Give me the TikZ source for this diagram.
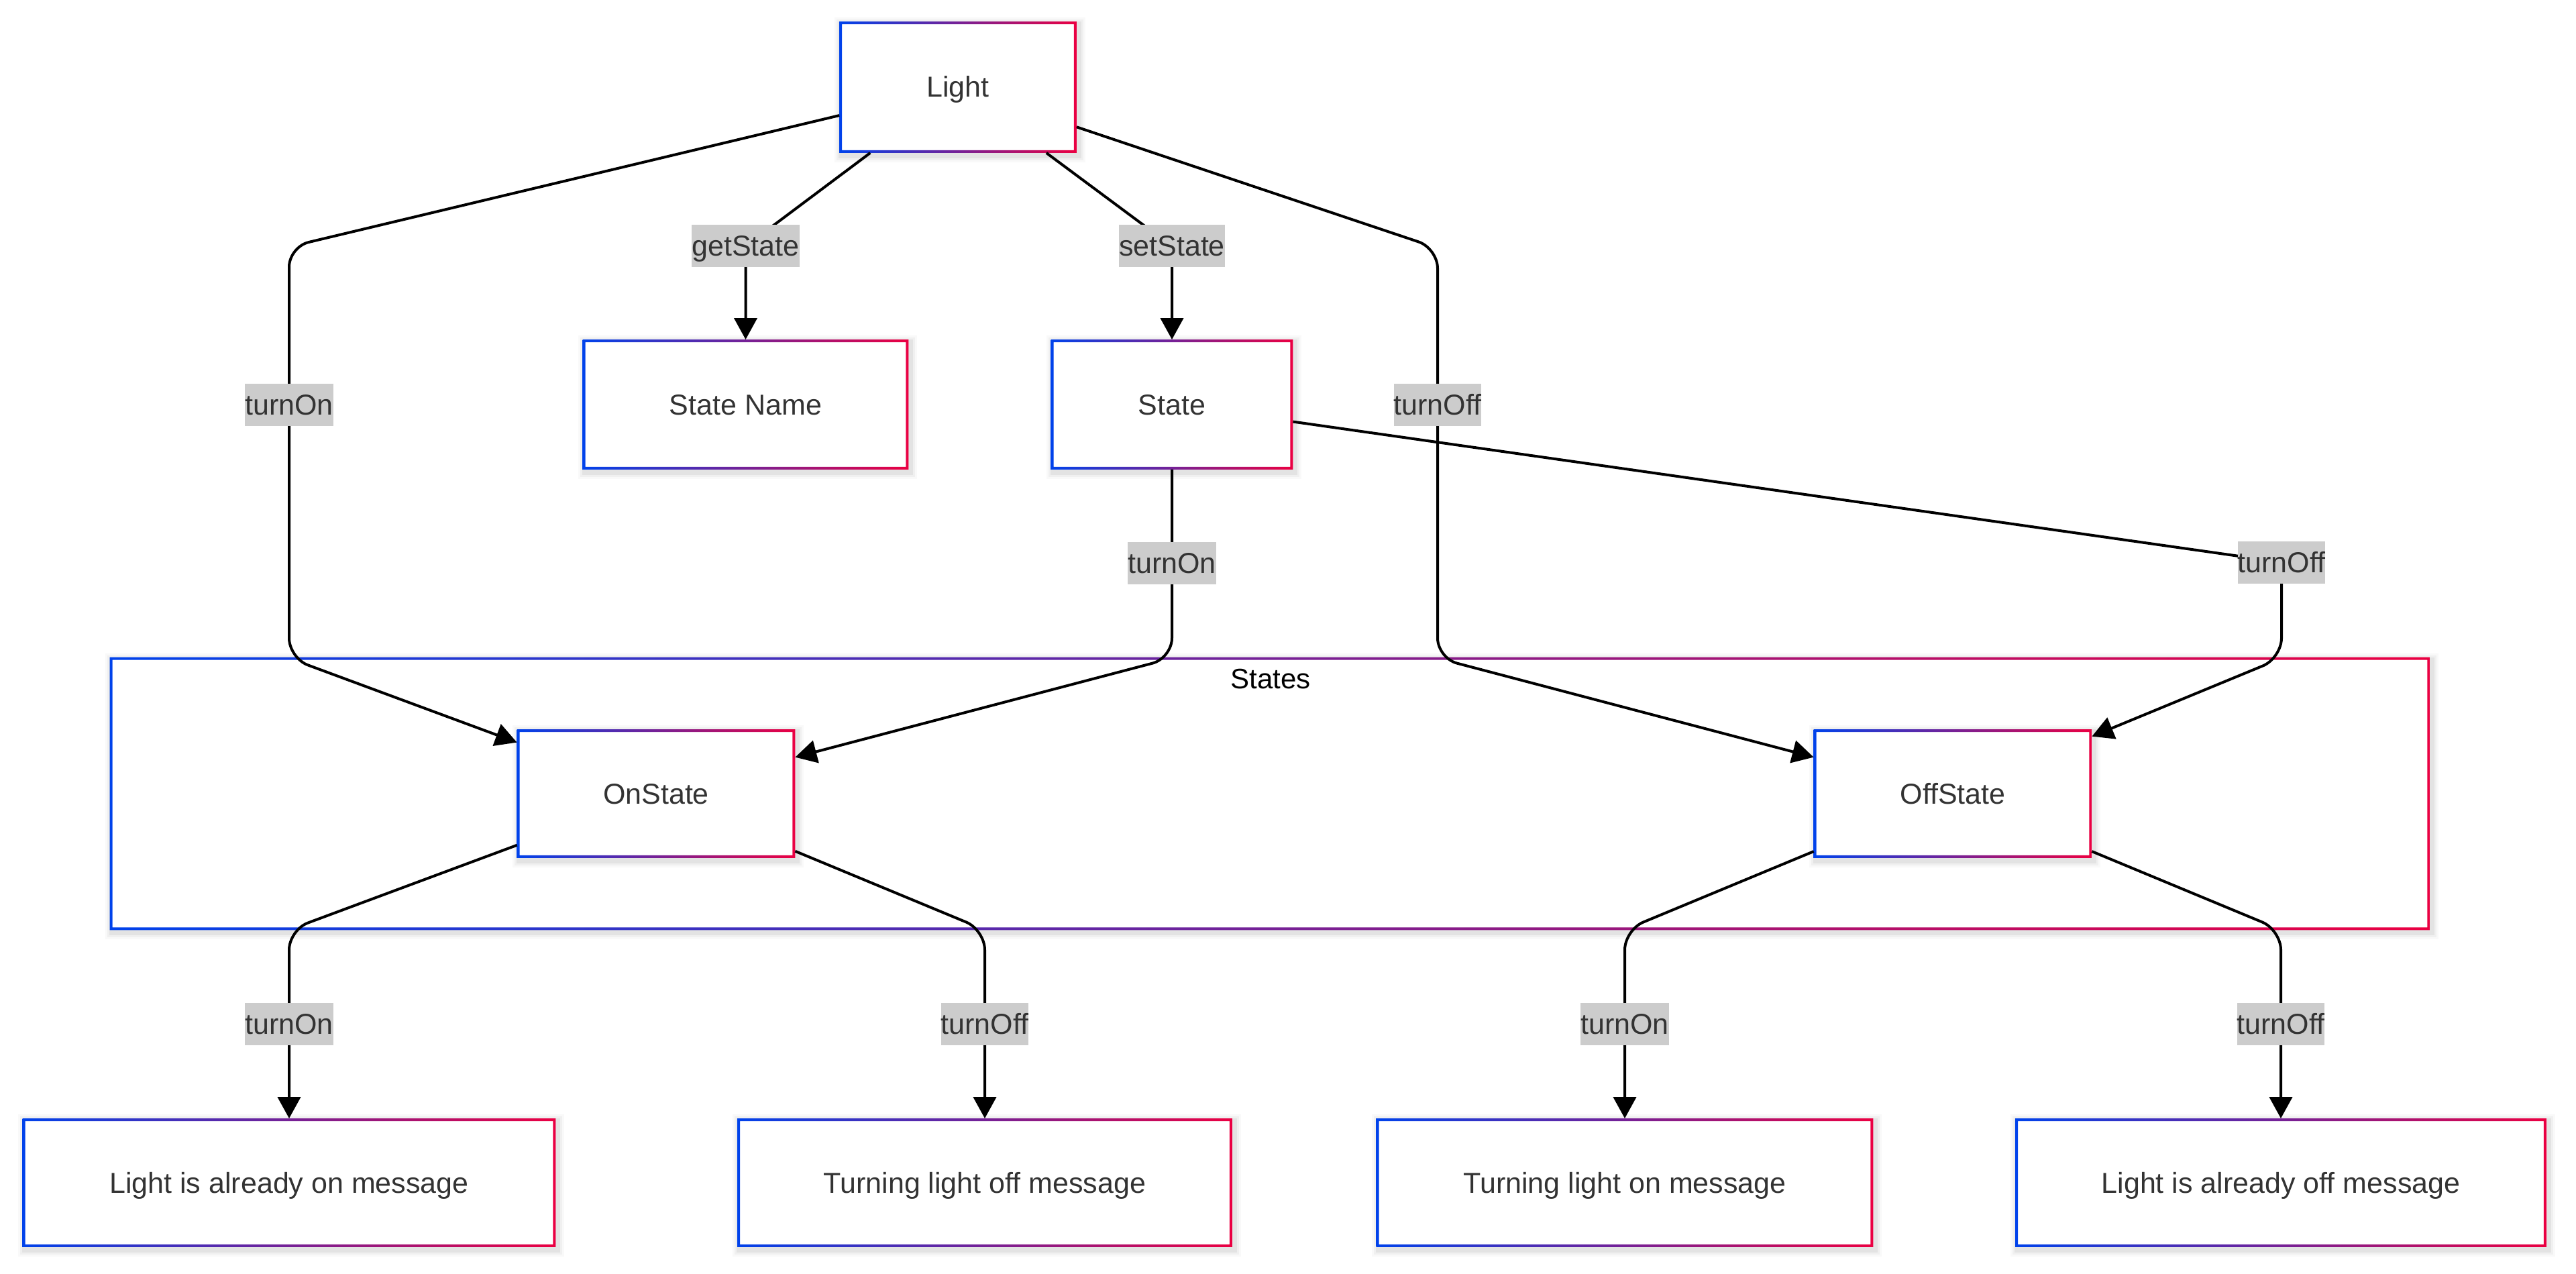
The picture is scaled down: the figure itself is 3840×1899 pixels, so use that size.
\documentclass[tikz,border=0pt]{standalone}
\usepackage{fontspec}
\setmainfont{Liberation Sans}
\usetikzlibrary{arrows.meta}
\definecolor{gblue}{HTML}{0042EB}
\definecolor{gred}{HTML}{EB0042}
\definecolor{txt}{HTML}{333333}
\definecolor{lblbg}{HTML}{CCCCCC}
\tikzset{
  box/.style={fill=white, inner sep=0pt, text=txt, font=\fontsize{21.5pt}{26pt}\selectfont, text height=19pt, text depth=4pt},
  lbl/.style={fill=lblbg, inner xsep=0pt, inner ysep=0pt, minimum height=31.5pt, text=txt, font=\fontsize{21.5pt}{26pt}\selectfont, text height=19pt, text depth=4pt},
  conn/.style={line width=2pt, -{Triangle[length=16pt,width=17pt]}, rounded corners=15pt},
}
\newcommand{\gborder}[1]{%
  \shade[left color=gblue, right color=gred, even odd rule]
    (#1.south west) rectangle (#1.north east)
    ([xshift=2pt,yshift=2pt]#1.south west) rectangle ([xshift=-2pt,yshift=-2pt]#1.north east);}
\newcommand{\gnode}[5]{%
  \node[minimum width=#3, minimum height=#4, inner sep=0pt] (#1s) at #2 {};
  \foreach \s/\o in {5/0.025,3.5/0.035,2/0.05}{%
    \fill[black,opacity=\o] ([xshift={(1.5-\s)*1pt}, yshift={(-2-\s)*1pt}]#1s.south west)
      rectangle ([xshift={(1.5+\s)*1pt}, yshift={(\s-2)*1pt}]#1s.north east);}
  \node[box, minimum width=#3, minimum height=#4] (#1) at #2 {#5};
  \gborder{#1}}
\begin{document}
\begin{tikzpicture}[x=0.5pt,y=-0.5pt]
\useasboundingbox[fill=white] (0,0) rectangle (3840,1899);
% cluster
\gnode{states}{(1893,1183)}{1729pt}{203pt}{}
\node[text=black, font=\fontsize{21pt}{25pt}\selectfont, text height=18pt, text depth=4pt] (stlbl) at (1894,1012) {States};
% nodes
\gnode{light}{(1428,130)}{176.5pt}{97.5pt}{Light}
\gnode{sname}{(1111.5,603)}{242.5pt}{96.5pt}{State Name}
\gnode{state}{(1747,603)}{180pt}{96.5pt}{State}
\gnode{on}{(978,1183)}{207pt}{95.5pt}{OnState}
\gnode{off}{(2911,1183)}{207pt}{95.5pt}{OffState}
\gnode{b1}{(431,1763)}{397pt}{95.5pt}{Light is already on message}
\gnode{b2}{(1468,1763)}{368.5pt}{95.5pt}{Turning light off message}
\gnode{b3}{(2422,1763)}{370pt}{95.5pt}{Turning light on message}
\gnode{b4}{(3400,1763)}{395.5pt}{95.5pt}{Light is already off message}
% waypoints
\coordinate (w1a) at (431,368);
\coordinate (w1b) at (431,981);
\coordinate (w2) at (1111.5,367);
\coordinate (w3) at (1747,367);
\coordinate (w4a) at (2143,370);
\coordinate (w4b) at (2143,981);
\coordinate (w5) at (1747,981);
\coordinate (w6a) at (3401,838);
\coordinate (w6b) at (3401,981);
\coordinate (w7) at (431,1386);
\coordinate (w8) at (1468,1386);
\coordinate (w9) at (2422,1386);
\coordinate (w10) at (3400,1386);
% connectors
\draw[conn] (light) -- (w1a) -- (w1b) -- (on);
\draw[conn] (light) -- (w2) -- (sname);
\draw[conn] (light) -- (w3) -- (state);
\draw[conn] (light) -- (w4a) -- (w4b) -- (off);
\draw[conn] (state) -- (w5) -- (on);
\draw[conn] (state) -- (w6a) -- (w6b) -- (off);
\draw[conn] (on) -- (w7) -- (b1);
\draw[conn] (on) -- (w8) -- (b2);
\draw[conn] (off) -- (w9) -- (b3);
\draw[conn] (off) -- (w10) -- (b4);
% labels
\node[lbl] (l1) at (431,603) {turnOn};
\node[lbl] (l2) at (w2) {getState};
\node[lbl] (l3) at (w3) {setState};
\node[lbl] (l4) at (2143,603) {turnOff};
\node[lbl] (l5) at (1747,839) {turnOn};
\node[lbl] (l6) at (w6a) {turnOff};
\node[lbl] (l7) at (431,1526) {turnOn};
\node[lbl] (l8) at (1468,1526) {turnOff};
\node[lbl] (l9) at (2422,1526) {turnOn};
\node[lbl] (l10) at (3400,1526) {turnOff};
\end{tikzpicture}
\end{document}
